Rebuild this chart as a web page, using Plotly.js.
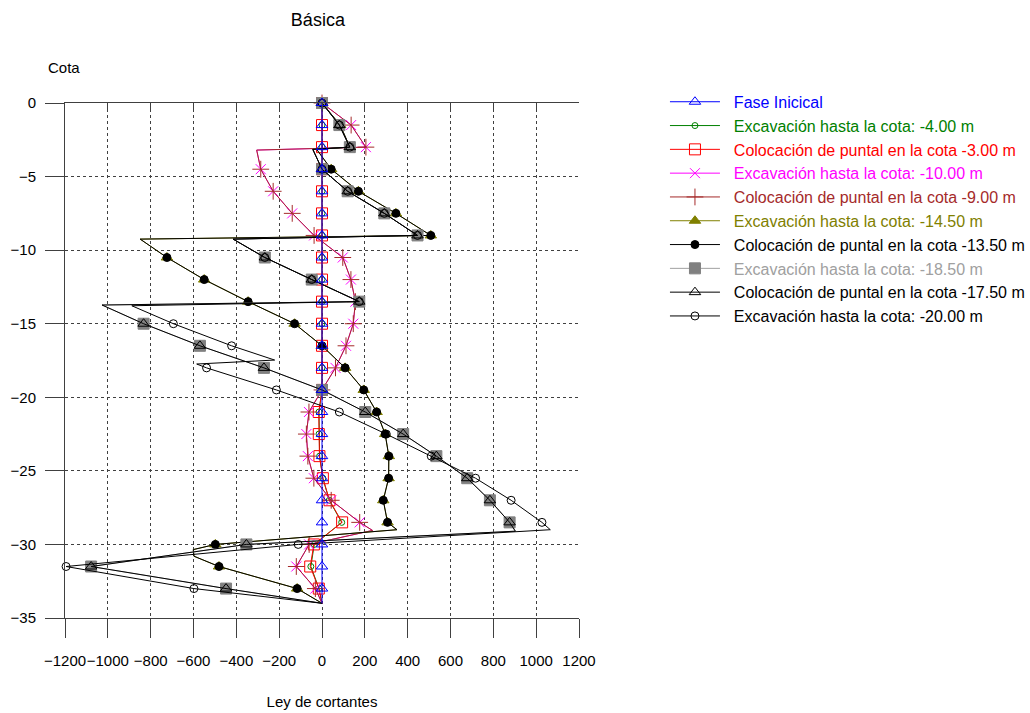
<!DOCTYPE html>
<html><head><meta charset="utf-8">
<script src="https://cdn.plot.ly/plotly-3.0.1.min.js"></script>
<style>html,body{margin:0;padding:0;background:#fff}#chart{width:1030px;height:713px}</style>
</head><body><div id="chart"></div>
<script>
// ---- data ----
const seriesNames = [
  'Fase Inicical',
  'Excavación hasta la cota: -4.00 m',
  'Colocación de puntal en la cota -3.00 m',
  'Excavación hasta la cota: -10.00 m',
  'Colocación de puntal en la cota -9.00 m',
  'Excavación hasta la cota: -14.50 m',
  'Colocación de puntal en la cota -13.50 m',
  'Excavación hasta la cota: -18.50 m',
  'Colocación de puntal en la cota -17.50 m',
  'Excavación hasta la cota: -20.00 m'
];
const xTicks = [-1200,-1000,-800,-600,-400,-200,0,200,400,600,800,1000,1200];
const yTicks = [0,-5,-10,-15,-20,-25,-30,-35];

const cotaBase = [0,-1.5,-3,-4.5,-6,-7.5,-9,-10.5,-12,-13.5,-15,-16.5,-18,-19.5,-21,-22.5,-24,-25.5,-27,-28.5,-30,-31.5,-33,-34];
const xFaseInicial = [0,0,0,0,0,0,0,0,0,0,0,0,0,0,0,0,0,0,0,0,0,0,0,0];
const xExc4 = [0,0,0,0,0,0,0,0,0,0,0,0,0,0,-14,-14,-11,4,34,92,-36,-52,-14,0];
const xPunt3 = [0,0,0,0,0,0,0,0,0,0,0,0,0,0,-15,-15,-12,4,35,94,-38,-55,-15,0];

const cotaExc10 = [0,-1.5,-3,-3.2,-4.5,-6,-7.5,-9,-10.5,-12,-13.5,-15,-16.5,-18,-19.5,-21,-22.5,-24,-25.5,-27,-28.5,-29.05,-30,-31.5,-33,-34];
const xExc10 = [0,136,205,-305,-286,-228,-139,-37,97,135,156,146,112,63,0,-61,-73,-66,-38,43,176,236,-60,-120,-31,0];
const xPunt9 = [0,136,205,-305,-286,-228,-139,-37,97,135,156,146,112,63,0,-61,-73,-66,-38,43,176,236,-60,-120,-31,0];

const cotaExc14 = [0,-1.5,-3,-3.15,-4.5,-6,-7.5,-9,-9.25,-10.5,-12,-13.5,-15,-16.5,-18,-19.5,-21,-22.5,-24,-25.5,-27,-28.5,-29,-30,-30.35,-30.8,-31.5,-33,-34];
const xExc14 = [0,85,130,-25,43,170,345,508,-849,-724,-550,-345,-128,0,108,195,255,295,312,311,286,306,350,-498,-601,-598,-481,-116,0];
const xPunt13 = [0,85,130,-25,43,170,345,508,-849,-724,-550,-345,-128,0,108,195,255,295,312,311,286,306,350,-498,-601,-598,-481,-116,0];

const cotaExc18 = [0,-1.5,-3,-3.15,-4.5,-6,-7.5,-9,-9.25,-10.5,-12,-13.5,-13.73,-15,-16.5,-18,-19.5,-21,-22.5,-24,-25.5,-27,-28.5,-29.1,-30,-31.5,-33,-34];
const xExc18 = [0,81,130,-43,0,120,291,446,-415,-267,-48,174,-1027,-833,-570,-271,0,202,379,534,678,784,876,903,-353,-1078,-448,0];
const xPunt17 = [0,81,130,-43,0,120,291,446,-415,-267,-48,174,-1027,-833,-570,-271,0,202,379,534,678,784,876,903,-353,-1078,-448,0];

const cotaExc20 = [0,-1.5,-3,-3.15,-4.5,-6,-7.5,-9,-9.25,-10.5,-12,-13.5,-13.78,-15,-16.5,-17.47,-17.74,-18,-19.5,-21,-22.5,-24,-25.5,-27,-28.5,-29,-30,-31.5,-33,-34];
const xExc20 = [0,81,130,-43,0,120,291,446,-415,-267,-48,174,-888,-694,-422,-221,-585,-539,-213,81,300,510,717,883,1027,1066,-111,-1195,-598,0];

// ---- drawing ----
function isNode(y){ const k = y/1.5; return Math.abs(k - Math.round(k)) < 1e-6; }
function mk(name, xs, ys, color, textColor, sym, size, lineColor, xax){
  const mc = ys.map(y => isNode(y) ? color : 'rgba(0,0,0,0)');
  return {
    type:'scatter', mode:'lines+markers', x:xs, y:ys, cliponaxis:false, xaxis: xax || 'x',
    name:'<span style="color:' + textColor + '">\u00a0\u00a0' + name + '</span>',
    line:{color: lineColor || color, width:1},
    marker:{symbol:sym, size:size, color:mc, line:{color:mc, width:1}},
    hoverinfo:'x+y'
  };
}
const traces = [
  mk(seriesNames[0], xFaseInicial, cotaBase, '#0000FF', '#0000FF', 'triangle-up-open', 10, null, 'x2'),
  mk(seriesNames[1], xExc4, cotaBase, '#008000', '#008000', 'circle-open', 6),
  mk(seriesNames[2], xPunt3, cotaBase, '#FF0000', '#FF0000', 'square-open', 11),
  mk(seriesNames[3], xExc10, cotaExc10, '#FF00FF', '#FF00FF', 'x-thin-open', 10),
  mk(seriesNames[4], xPunt9, cotaExc10, '#A52A2A', '#A52A2A', 'cross-thin-open', 12),
  mk(seriesNames[5], xExc14, cotaExc14, '#808000', '#808000', 'triangle-up', 10),
  mk(seriesNames[6], xPunt13, cotaExc14, '#000000', '#000000', 'circle', 8),
  mk(seriesNames[7], xExc18, cotaExc18, '#808080', '#A0A0A0', 'square', 11, '#A0A0A0'),
  mk(seriesNames[8], xPunt17, cotaExc18, '#000000', '#000000', 'triangle-up-open', 10),
  mk(seriesNames[9], xExc20, cotaExc20, '#000000', '#000000', 'circle-open', 8)
];
traces.forEach((t, i) => { t.legendrank = i + 1; });

const axisCol = '#404040';
const layout = {
  width:1030, height:713,
  margin:{l:65, r:451, t:103, b:95, pad:0, autoexpand:false},
  paper_bgcolor:'#ffffff', plot_bgcolor:'#ffffff',
  font:{family:'"Liberation Sans", Arial, sans-serif', size:15, color:'#000'},
  title:{text:'Básica', font:{size:18, color:'#000'}, xref:'paper', x:0.492, xanchor:'center', yref:'container', y:0.972, yanchor:'middle'},
  showlegend:true,
  xaxis:{range:[-1200,1200], tickmode:'array', tickvals:xTicks, ticks:'outside', ticklen:19, tickwidth:1, tickcolor:axisCol,
    showline:true, linecolor:axisCol, linewidth:1, showgrid:true, gridcolor:axisCol, griddash:'3px,3px', gridwidth:1,
    zeroline:false, ticklabelstandoff:10, tickangle:0, automargin:false,
    tickfont:{size:15}, title:{text:'Ley de cortantes', standoff:28, font:{size:15}}, fixedrange:true},
  xaxis2:{overlaying:'x', side:'top', anchor:'y', range:[-1200,1200], tickmode:'array', tickvals:xTicks, ticks:'inside', ticklen:8,
    tickcolor:axisCol, showticklabels:false, showline:true, linecolor:axisCol, linewidth:1, showgrid:false, zeroline:false, fixedrange:true},
  yaxis:{range:[-35,0], tickmode:'array', tickvals:yTicks, ticks:'outside', ticklen:19, tickwidth:1, tickcolor:axisCol,
    showline:true, linecolor:axisCol, linewidth:1, showgrid:true, gridcolor:axisCol, griddash:'3px,3px', gridwidth:1,
    zeroline:false, ticklabelstandoff:6, tickfont:{size:15}, automargin:false, fixedrange:true},
  legend:{xref:'container', yref:'container', x:0.6456, y:0.881, xanchor:'left', yanchor:'top', bgcolor:'rgba(0,0,0,0)', borderwidth:0, traceorder:'normal',
    font:{size:16, color:'#000'}, itemwidth:50, tracegroupgap:0, itemclick:false, itemdoubleclick:false},
  annotations:[{text:'Cota', xref:'paper', yref:'paper', x:-0.002, y:1.069, xanchor:'center', yanchor:'middle', showarrow:false, font:{size:15}}]
};
Plotly.newPlot('chart', traces, layout, {displayModeBar:false, staticPlot:true});
</script>
</body></html>
